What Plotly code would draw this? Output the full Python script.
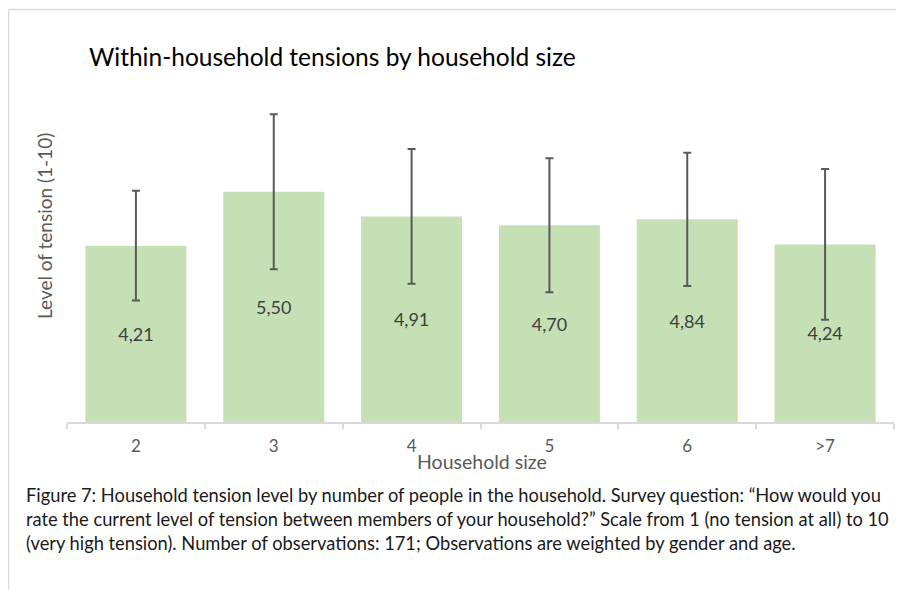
import plotly.graph_objects as go

categories = ["2", "3", "4", "5", "6", ">7"]
values = [4.21, 5.50, 4.91, 4.70, 4.84, 4.24]
errors = [1.31, 1.85, 1.61, 1.60, 1.59, 1.80]

title_text = "Within-household tensions by household size"
y_title = "Level of tension (1-10)"
x_title = "Household size"
caption = ("Figure 7: Household tension level by number of people in the household. Survey question: \u201cHow would you<br>"
           "rate the current level of tension between members of your household?\u201d Scale from 1 (no tension at all) to 10<br>"
           "(very high tension). Number of observations: 171; Observations are weighted by gender and age.")

# page body has an 8px margin; coordinates below are in screenshot pixels
OFF = 8
W, H = 904 - OFF, 590 - OFF
PLOT_L, PLOT_R, PLOT_T, PLOT_B = 67, 894, 87, 422
ML, MR, MT, MB = PLOT_L - OFF, 904 - PLOT_R, PLOT_T - OFF, 590 - PLOT_B
PW, PH = PLOT_R - PLOT_L, PLOT_B - PLOT_T
FONT = "Lato, Carlito, Calibri, sans-serif"


def px(x):
    return (x - PLOT_L) / PW


def py(y):
    return (PLOT_B - y) / PH


fig = go.Figure()
fig.add_trace(go.Bar(
    x=categories, y=values,
    marker=dict(color="#C5E0B4", line=dict(width=0)),
    error_y=dict(type="data", array=errors, visible=True, color="#595959", thickness=2, width=4),
    texttemplate="%{y:.2f}", textposition="inside", insidetextanchor="middle",
    textfont=dict(family=FONT, size=18, color="#404040"),
    constraintext="none",
    hoverinfo="skip",
))

fig.update_layout(
    width=W, height=H,
    margin=dict(l=ML, r=MR, t=MT, b=MB, autoexpand=False),
    paper_bgcolor="white", plot_bgcolor="white",
    separators=", ",
    bargap=0.267,
    showlegend=False,
    font=dict(family=FONT, color="#595959"),
    xaxis=dict(
        showline=True, linecolor="#d9d9d9", linewidth=1.5,
        ticks="outside", tickson="boundaries", tickcolor="#d9d9d9", ticklen=5, tickwidth=1.5,
        ticklabelstandoff=8,
        tickfont=dict(family=FONT, size=17, color="#595959"),
        showgrid=False, zeroline=False,
    ),
    yaxis=dict(
        range=[0, 8], visible=False, showgrid=False, zeroline=False,
    ),
    shapes=[
        dict(type="line", xref="paper", yref="paper", x0=px(8.5), x1=px(905), y0=py(9.5), y1=py(9.5),
             line=dict(color="#d9d9d9", width=1.5)),
        dict(type="line", xref="paper", yref="paper", x0=px(8.5), x1=px(8.5), y0=py(9.5), y1=py(595),
             line=dict(color="#d9d9d9", width=1.5)),
    ],
    annotations=[
        dict(text=title_text, xref="paper", yref="paper", x=px(87), y=py(56), xanchor="left", yanchor="middle",
             showarrow=False, font=dict(family=FONT, size=24.5, color="#000000")),
        dict(text=y_title, xref="paper", yref="paper", x=px(45), y=py(226), xanchor="center", yanchor="middle",
             textangle=-90, showarrow=False, font=dict(family=FONT, size=19, color="#595959")),
        dict(text=x_title, xref="paper", yref="paper", x=px(482), y=py(462), xanchor="center", yanchor="middle",
             showarrow=False, font=dict(family=FONT, size=19.5, color="#595959")),
        dict(text=caption, xref="paper", yref="paper", x=px(24), y=py(519), xanchor="left", yanchor="middle",
             align="left", showarrow=False, font=dict(family=FONT, size=18.3, color="#1a1a1a")),
    ],
)

fig.write_html("out.html")
